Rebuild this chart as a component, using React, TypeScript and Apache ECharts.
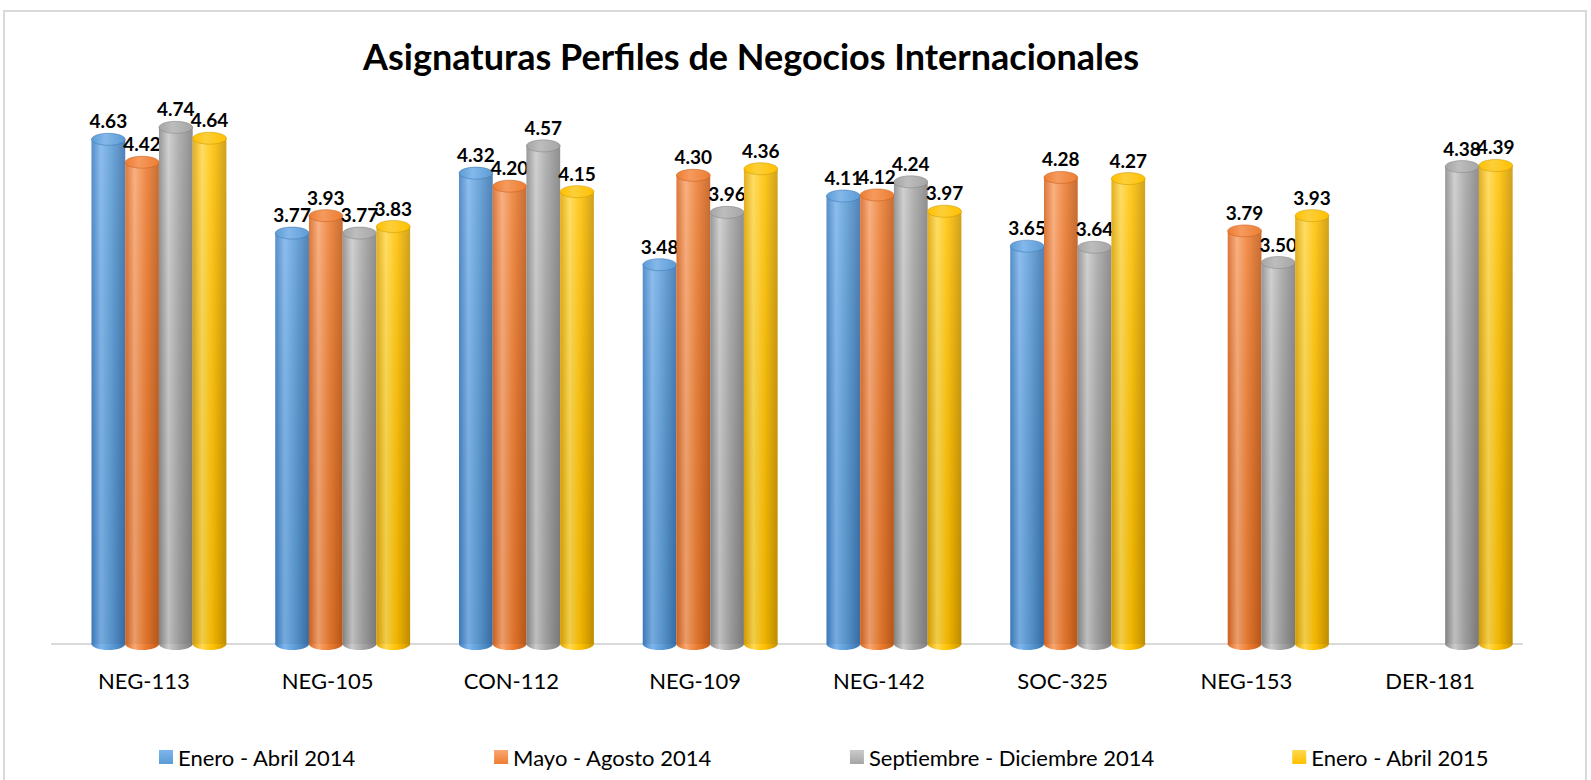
import React, { useEffect, useRef } from "react";
import * as echarts from "echarts";

const categories = ["NEG-113", "NEG-105", "CON-112", "NEG-109", "NEG-142", "SOC-325", "NEG-153", "DER-181"];
const seriesNames = ["Enero - Abril 2014", "Mayo - Agosto 2014", "Septiembre - Diciembre 2014", "Enero - Abril 2015"];
const eneroAbril2014 = [4.63, 3.77, 4.32, 3.48, 4.11, 3.65, null, null];
const mayoAgosto2014 = [4.42, 3.93, 4.2, 4.3, 4.12, 4.28, 3.79, null];
const septDic2014 = [4.74, 3.77, 4.57, 3.96, 4.24, 3.64, 3.5, 4.38];
const eneroAbril2015 = [4.64, 3.83, 4.15, 4.36, 3.97, 4.27, 3.93, 4.39];
const seriesValues = [eneroAbril2014, mayoAgosto2014, septDic2014, eneroAbril2015];
const titleText = "Asignaturas Perfiles de Negocios Internacionales";

const palettes = [
  { dark: "#3f7fc2", light: "#7db5ec", mid: "#5b9bd5", edge: "#3a72ad", cap: "#84b8ea" },
  { dark: "#d9651f", light: "#f8a671", mid: "#ed7d31", edge: "#c15b19", cap: "#f59a5e" },
  { dark: "#8a8a8a", light: "#cacaca", mid: "#a5a5a5", edge: "#808080", cap: "#bdbdbd" },
  { dark: "#e0a400", light: "#ffd94f", mid: "#ffc000", edge: "#c99500", cap: "#fccf3a" },
];

const FONT = "Lato, 'Open Sans', sans-serif";

function hGrad(p: any) {
  return new echarts.graphic.LinearGradient(0, 0, 1, 0, [
    { offset: 0, color: p.dark },
    { offset: 0.28, color: p.light },
    { offset: 0.6, color: p.mid },
    { offset: 1, color: p.edge },
  ]);
}

export default function App() {
  const ref = useRef<HTMLDivElement>(null);
  useEffect(() => {
    document.body.style.margin = "0";
    document.body.style.overflow = "hidden";
    const chart = echarts.init(ref.current!, null, { renderer: "svg" });

    const series = seriesValues.map((vals, si) => {
      const p = palettes[si];
      return {
        type: "custom",
        name: seriesNames[si],
        itemStyle: {
          color: new echarts.graphic.LinearGradient(0, 0, 0, 1, [
            { offset: 0, color: p.light },
            { offset: 1, color: p.mid },
          ]),
        },
        encode: { x: 0, y: 1 },
        data: vals.map((v, i) => [i, v]),
        renderItem: (params: any, api: any) => {
          const ci = api.value(0);
          const v = api.value(1);
          if (v == null || isNaN(v)) return null;
          const top = api.coord([ci, v]);
          const base = api.coord([ci, 0]);
          const band = api.size([1, 0])[0];
          const w = band * 0.1835;
          const cx = base[0] + band * 0.082 + (si - 1.5) * w;
          const x0 = cx - w / 2;
          const ry = 6;
          const grad = hGrad(p);
          return {
            type: "group",
            children: [
              {
                type: "ellipse",
                shape: { cx, cy: base[1], rx: w / 2, ry },
                style: { fill: grad },
              },
              {
                type: "rect",
                shape: { x: x0, y: top[1], width: w, height: base[1] - top[1] },
                style: { fill: grad },
              },
              {
                type: "rect",
                shape: { x: x0, y: top[1], width: w, height: base[1] - top[1] },
                style: {
                  fill: new echarts.graphic.LinearGradient(0, 0, 0, 1, [
                    { offset: 0, color: "rgba(255,255,255,0.12)" },
                    { offset: 1, color: "rgba(0,0,0,0.06)" },
                  ]),
                },
              },
              {
                type: "ellipse",
                shape: { cx, cy: top[1], rx: w / 2, ry },
                style: {
                  fill: new echarts.graphic.LinearGradient(0, 0, 1, 0, [
                    { offset: 0, color: p.mid },
                    { offset: 0.4, color: p.cap },
                    { offset: 1, color: p.mid },
                  ]),
                  stroke: p.edge,
                  lineWidth: 0.5,
                },
              },
              {
                type: "text",
                x: cx,
                y: top[1] - ry - 3,
                style: {
                  text: (Math.round(v * 100) / 100).toFixed(2),
                  fill: "#000",
                  font: `bold 19px ${FONT}`,
                  align: "center",
                  verticalAlign: "bottom",
                },
              },
            ],
          };
        },
      };
    });

    chart.setOption({
      animation: false,
      backgroundColor: "#fff",
      grid: { left: 52, right: 69, top: 99, bottom: 136 },
      xAxis: {
        type: "category",
        data: categories,
        offset: 8,
        axisLine: { show: true, lineStyle: { color: "#d9d9d9", width: 2 } },
        axisTick: { show: false },
        axisLabel: { color: "#000", fontSize: 22, fontFamily: FONT, margin: 17 },
      },
      yAxis: { type: "value", min: 0, max: 5, show: false },
      legend: {
        data: seriesNames,
        left: 154,
        top: 741,
        icon: "rect",
        itemWidth: 14,
        itemHeight: 14,
        itemGap: 138,
        textStyle: { color: "#000", fontSize: 22, fontFamily: FONT, padding: [0, 0, 0, 0] },
      },
      graphic: [
        {
          type: "rect",
          shape: { x: 4, y: 11, width: 1582, height: 800 },
          style: { fill: "none", stroke: "#d9d9d9", lineWidth: 2 },
          silent: true,
        },
        {
          type: "text",
          x: 751,
          y: 56,
          style: {
            text: titleText,
            fill: "#000",
            font: `bold 36px ${FONT}`,
            align: "center",
            verticalAlign: "middle",
          },
        },
      ],
      series,
    });
    return () => chart.dispose();
  }, []);
  return <div ref={ref} style={{ width: 1591, height: 780 }} />;
}
